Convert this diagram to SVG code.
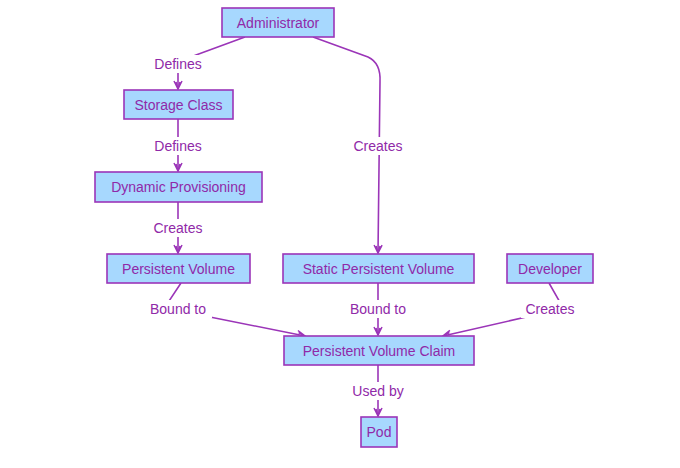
<svg xmlns="http://www.w3.org/2000/svg" width="680" height="468" viewBox="0 0 680 468">
<defs>
<style>
.node rect{fill:#a7d8fe;stroke:#9b35b8;stroke-width:1.6}
.node text,.lbl text{font-family:"Liberation Sans",Arial,sans-serif;font-size:14px;fill:#9029a8;text-anchor:middle;dominant-baseline:central}
.edge{fill:none;stroke:#9b35b8;stroke-width:1.6}
.lbl rect{fill:#ffffff}
</style>
<marker id="arr" markerWidth="10" markerHeight="10" refX="9" refY="5" orient="auto" markerUnits="userSpaceOnUse">
<path d="M1,1 L9,5 L1,9 M2,3 L9,5 L2,7" fill="none" stroke="#9b35b8" stroke-width="1.5"/>
</marker>
</defs>
<rect width="680" height="468" fill="#ffffff"/>
<g id="connectors">
<path class="edge" d="M245,37 L196,55 Q178,62 178,72 L178,89" marker-end="url(#arr)"/>
<path class="edge" d="M313,37 L368,57 Q381,63 380,82 L378,253" marker-end="url(#arr)"/>
<path class="edge" d="M178,119 L178,171" marker-end="url(#arr)"/>
<path class="edge" d="M178,202 L178,253" marker-end="url(#arr)"/>
<path class="edge" d="M181,283 L167,304 L190,313 L305,336" marker-end="url(#arr)"/>
<path class="edge" d="M378,283 L378,335" marker-end="url(#arr)"/>
<path class="edge" d="M549,283 L561,304 L535,315 L443,336" marker-end="url(#arr)"/>
<path class="edge" d="M378,365 L378,416" marker-end="url(#arr)"/>
</g>
<g id="labels">
<g class="lbl"><rect x="149" y="55" width="58" height="18"/><text x="178" y="64">Defines</text></g>
<g class="lbl"><rect x="149" y="137" width="58" height="18"/><text x="178" y="146">Defines</text></g>
<g class="lbl"><rect x="149" y="219" width="58" height="18"/><text x="178" y="228">Creates</text></g>
<g class="lbl"><rect x="349" y="137" width="58" height="18"/><text x="378" y="146">Creates</text></g>
<g class="lbl"><rect x="144" y="300" width="68" height="18"/><text x="178" y="309">Bound to</text></g>
<g class="lbl"><rect x="344" y="300" width="68" height="18"/><text x="378" y="309">Bound to</text></g>
<g class="lbl"><rect x="521" y="300" width="58" height="18"/><text x="550" y="309">Creates</text></g>
<g class="lbl"><rect x="349" y="382" width="58" height="18"/><text x="378" y="391">Used by</text></g>
</g>
<g id="administrator" class="node"><rect x="222" y="8" width="112" height="29"/><text x="278" y="22.5">Administrator</text></g>
<g id="storage-class" class="node"><rect x="124" y="90" width="109" height="29"/><text x="178.5" y="104.5">Storage Class</text></g>
<g id="dynamic-provisioning" class="node"><rect x="95" y="172" width="167" height="30"/><text x="178.5" y="187">Dynamic Provisioning</text></g>
<g id="persistent-volume" class="node"><rect x="107" y="254" width="143" height="29"/><text x="178.5" y="268.5">Persistent Volume</text></g>
<g id="static-persistent-volume" class="node"><rect x="283" y="254" width="191" height="29"/><text x="378.5" y="268.5">Static Persistent Volume</text></g>
<g id="developer" class="node"><rect x="507" y="254" width="86" height="29"/><text x="550" y="268.5">Developer</text></g>
<g id="persistent-volume-claim" class="node"><rect x="284" y="336" width="190" height="29"/><text x="379" y="350.5">Persistent Volume Claim</text></g>
<g id="pod" class="node"><rect x="361" y="417" width="36" height="30"/><text x="379" y="432">Pod</text></g>
</svg>
